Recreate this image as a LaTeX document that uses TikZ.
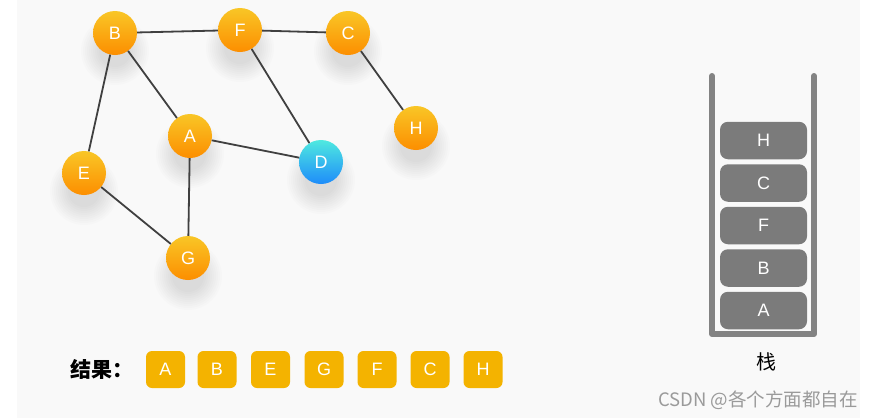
\documentclass[tikz,border=0pt]{standalone}
\usepackage{fontspec}
\setmainfont{Liberation Sans}
\newfontfamily\cjk{Noto Sans CJK SC}
\definecolor{bgc}{HTML}{F9F9F9}
\definecolor{otop}{HTML}{F9C626}
\definecolor{obot}{HTML}{FC8E00}
\definecolor{ctop}{HTML}{4FE9E0}
\definecolor{cbot}{HTML}{1E8CFA}
\definecolor{edgec}{HTML}{404040}
\definecolor{resc}{HTML}{F4B300}
\definecolor{wallc}{HTML}{838383}
\definecolor{stkc}{HTML}{7B7B7B}
\definecolor{wmc}{HTML}{9A9A9A}
\tikzset{
  vtx/.style={circle, minimum size=44pt, inner sep=0pt, top color=otop, bottom color=obot, text=white, font=\fontsize{18}{18}\selectfont},
  vtxd/.style={vtx, top color=ctop, bottom color=cbot},
  conn/.style={draw=edgec, line width=1.8pt},
  resbox/.style={rounded corners=6pt, fill=resc, minimum width=39pt, minimum height=37pt, inner sep=0pt, text=white, font=\fontsize{18}{18}\selectfont},
  stkbox/.style={rounded corners=8pt, fill=stkc, minimum width=87pt, minimum height=37.5pt, inner sep=0pt, text=white, font=\fontsize{18}{18}\selectfont},
}
\newcommand{\softshadow}[2]{%
  \foreach \r in {34,32,...,16}{
    \fill[black, opacity=0.012] (#1,#2+18) circle (\r pt);
  }%
}
\begin{document}
\begin{tikzpicture}[x=1pt,y=-1pt]
\useasboundingbox (0,0) rectangle (884,418);
\fill[white] (0,0) rectangle (884,418);
\fill[bgc] (17,0) rectangle (860,418);
% shadows
\softshadow{115}{33}
\softshadow{240}{30}
\softshadow{348}{33}
\softshadow{416}{128}
\softshadow{190}{136}
\softshadow{321}{162}
\softshadow{84}{173}
\softshadow{188}{258}
% vertices
\node[vtx] (B) at (115,33) {B};
\node[vtx] (F) at (240,30) {F};
\node[vtx] (C) at (348,33) {C};
\node[vtx] (H) at (416,128) {H};
\node[vtx] (A) at (190,136) {A};
\node[vtxd] (D) at (321,162) {D};
\node[vtx] (E) at (84,173) {E};
\node[vtx] (G) at (188,258) {G};
% edges
\draw[conn] (B) -- (F);
\draw[conn] (F) -- (C);
\draw[conn] (B) -- (E);
\draw[conn] (B) -- (A);
\draw[conn] (F) -- (D);
\draw[conn] (C) -- (H);
\draw[conn] (A) -- (D);
\draw[conn] (A) -- (G);
\draw[conn] (E) -- (G);
% result row
\node[font=\cjk\bfseries\fontsize{21}{21}\selectfont, anchor=west, inner sep=0pt] (res) at (70,369.5) {结果：};
\node[resbox] (r1) at (165.5,369.5) {A};
\node[resbox] (r2) at (217,369.5) {B};
\node[resbox] (r3) at (270.5,369.5) {E};
\node[resbox] (r4) at (324,369.5) {G};
\node[resbox] (r5) at (377,369.5) {F};
\node[resbox] (r6) at (430,369.5) {C};
\node[resbox] (r7) at (483,369.5) {H};
% stack
\draw[wallc, line width=6pt, line cap=round, line join=round] (712,76) -- (712,334) -- (814,334) -- (814,76);
\node[stkbox] (sH) at (763.5,140.5) {H};
\node[stkbox] (sC) at (763.5,183) {C};
\node[stkbox] (sF) at (763.5,225.5) {F};
\node[stkbox] (sB) at (763.5,268) {B};
\node[stkbox] (sA) at (763.5,310.5) {A};
\node[font=\cjk\fontsize{20}{20}\selectfont, inner sep=0pt] (stk) at (766,362) {栈};
% watermark
\node[font=\cjk\fontsize{18.5}{18.5}\selectfont, text=wmc, anchor=west, inner sep=0pt] (wm) at (658,400) {CSDN @各个方面都自在};
\end{tikzpicture}
\end{document}
